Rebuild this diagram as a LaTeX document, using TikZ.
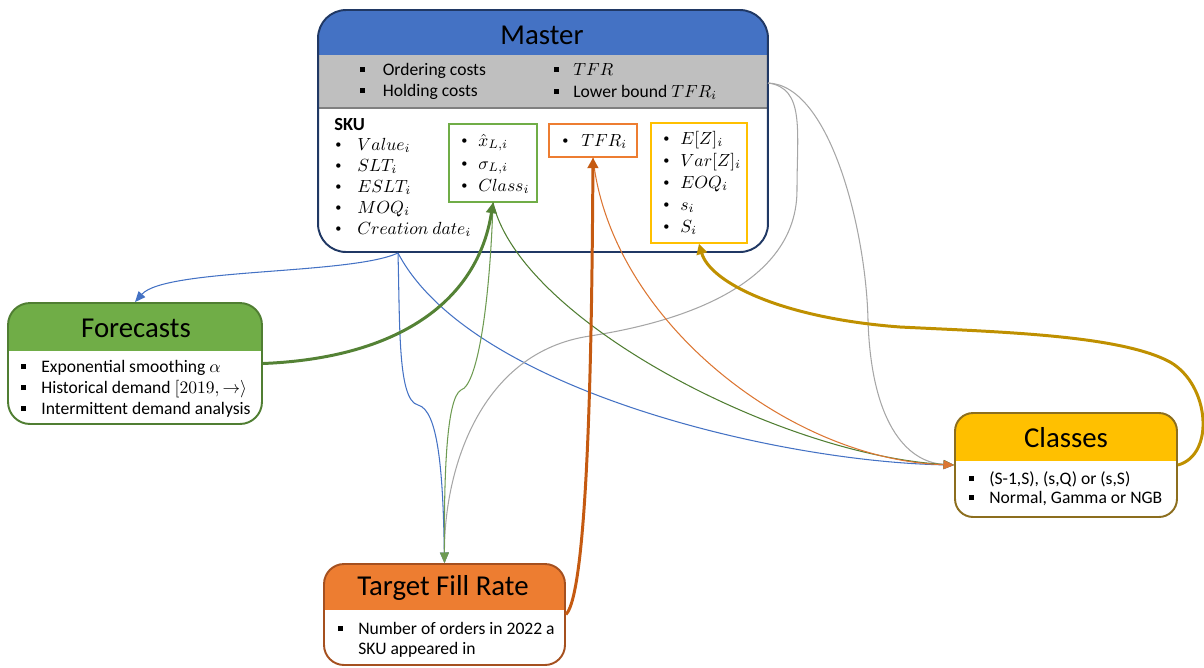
\documentclass[tikz,border=0pt]{standalone}
\usepackage{fontspec}
\setmainfont{Carlito}
\usetikzlibrary{arrows.meta,calc}
\definecolor{mblue}{HTML}{4472C4}
\definecolor{mnavy}{HTML}{203864}
\definecolor{mgray}{HTML}{BFBFBF}
\definecolor{fgreen}{HTML}{70AD47}
\definecolor{fgreenb}{HTML}{507E32}
\definecolor{torange}{HTML}{ED7D31}
\definecolor{torangeb}{HTML}{A5501F}
\definecolor{cyellow}{HTML}{FFC000}
\definecolor{cyellowb}{HTML}{8C6E1E}
\definecolor{lblue}{HTML}{4472C4}
\definecolor{lgreenthick}{HTML}{548235}
\definecolor{lgreen}{HTML}{6E9B52}
\definecolor{lorangethick}{HTML}{C55A11}
\definecolor{lorange}{HTML}{DC7633}
\definecolor{lgold}{HTML}{BF9000}
\definecolor{lgray}{HTML}{A6A6A6}
\newcommand\rbul[1]{\makebox[#1][l]{\raisebox{0.8pt}{\fontsize{7}{7}\selectfont\textbullet}}}
\newcommand\sbul[1]{\makebox[#1][l]{\rule[1.6pt]{2.8pt}{2.8pt}}}
\tikzset{
  card/.style={draw, line width=1.1pt, fill=white, inner sep=0pt, rectangle},
  titletext/.style={font=\fontsize{16.4}{19}\selectfont, inner sep=0pt},
  itemtext/.style={font=\fontsize{10}{12}\selectfont, inner sep=0pt, anchor=base west},
  inbox/.style={draw, line width=0.7pt, inner sep=0pt, rectangle},
  thinline/.style={line width=0.6pt},
  thickline/.style={line width=1.7pt},
  tipS/.style={-{Triangle[length=6pt,width=5pt]}},
  tipL/.style={-{Triangle[length=6pt,width=6pt]}}
}
\begin{document}
\begin{tikzpicture}[x=0.02cm,y=-0.02cm]
\useasboundingbox (0,0) rectangle (1204,667);

% ---------- Master ----------
\node[card, draw=mnavy, rounded corners=0.56cm, minimum width=9cm, minimum height=4.84cm,
  path picture={
    \fill[mgray, sharp corners] (path picture bounding box.north west) rectangle ([yshift=-1.96cm]path picture bounding box.north east);
    \draw[gray, line width=0.6pt, sharp corners] ([yshift=-1.96cm]path picture bounding box.north west) -- ([yshift=-1.96cm]path picture bounding box.north east);
    \fill[mblue, sharp corners] (path picture bounding box.north west) rectangle ([yshift=-0.9cm]path picture bounding box.north east);
  }] (master) at (543,131) {};
\node[titletext] (mastertitle) at (542,35) {Master};

\node[itemtext] (oc) at (360,75) {\sbul{0.45cm}Ordering costs};
\node[itemtext] (hc) at (360,96) {\sbul{0.45cm}Holding costs};
\node[itemtext] (tfrg) at (554,75) {\sbul{0.38cm}$TFR$};
\node[itemtext] (lb) at (554,97) {\sbul{0.38cm}Lower bound $TFR_i$};

\node[itemtext, font=\fontsize{10.5}{12}\selectfont\bfseries] (sku) at (334,130) {SKU};
\node[itemtext] (sku1) at (335,150) {\rbul{0.44cm}$Value_i$};
\node[itemtext] (sku2) at (335,171) {\rbul{0.44cm}$SLT_i$};
\node[itemtext] (sku3) at (335,192) {\rbul{0.44cm}$ESLT_i$};
\node[itemtext] (sku4) at (335,213) {\rbul{0.44cm}$MOQ_i$};
\node[itemtext] (sku5) at (335,234) {\rbul{0.44cm}$Creation\ date_i$};

\node[inbox, draw=fgreen, minimum width=1.76cm, minimum height=1.56cm] (gbox) at (493,163) {};
\node[itemtext] (g1) at (461,146) {\rbul{0.34cm}$\hat{x}_{L,i}$};
\node[itemtext] (g2) at (461,169) {\rbul{0.34cm}$\sigma_{L,i}$};
\node[itemtext] (g3) at (461,191) {\rbul{0.34cm}$Class_i$};

\node[inbox, draw=torange, minimum width=1.76cm, minimum height=0.66cm] (obox) at (593,140.5) {};
\node[itemtext] (o1) at (562,146) {\rbul{0.38cm}$TFR_i$};

\node[inbox, draw=cyellow, minimum width=1.92cm, minimum height=2.4cm] (ybox) at (699,183) {};
\node[itemtext] (y1) at (663,144) {\rbul{0.34cm}$E[Z]_i$};
\node[itemtext] (y2) at (663,166) {\rbul{0.34cm}$Var[Z]_i$};
\node[itemtext] (y3) at (663,188) {\rbul{0.34cm}$EOQ_i$};
\node[itemtext] (y4) at (663,210) {\rbul{0.34cm}$s_i$};
\node[itemtext] (y5) at (663,232) {\rbul{0.34cm}$S_i$};

% ---------- Forecasts ----------
\node[card, draw=fgreenb, rounded corners=0.44cm, minimum width=5.08cm, minimum height=2.42cm,
  path picture={
    \fill[fgreen, sharp corners] (path picture bounding box.north west) rectangle ([yshift=-0.96cm]path picture bounding box.north east);
  }] (forecasts) at (135,363.5) {};
\node[titletext] (ftitle) at (136,328) {Forecasts};
\node[itemtext] (f1) at (21,372) {\sbul{0.40cm}Exponential smoothing $\alpha$};
\node[itemtext] (f2) at (21,393) {\sbul{0.40cm}Historical demand $[2019,\rightarrow\rangle$};
\node[itemtext] (f3) at (21,414) {\sbul{0.40cm}Intermittent demand analysis};

% ---------- Target Fill Rate ----------
\node[card, draw=torangeb, rounded corners=0.4cm, minimum width=4.82cm, minimum height=2.02cm,
  path picture={
    \fill[torange, sharp corners] (path picture bounding box.north west) rectangle ([yshift=-0.92cm]path picture bounding box.north east);
  }] (tfr) at (444.5,614.5) {};
\node[titletext] (ttitle) at (443,588) {Target Fill Rate};
\node[itemtext] (t1) at (338,634) {\sbul{0.40cm}Number of orders in 2022 a};
\node[itemtext] (t2) at (338,654) {\makebox[0.40cm]{}SKU appeared in};

% ---------- Classes ----------
\node[card, draw=cyellowb, rounded corners=0.36cm, minimum width=4.44cm, minimum height=2.08cm,
  path picture={
    \fill[cyellow, sharp corners] (path picture bounding box.north west) rectangle ([yshift=-0.96cm]path picture bounding box.north east);
  }] (classes) at (1066,465) {};
\node[titletext] (ctitle) at (1066,438) {Classes};
\node[itemtext] (c1) at (969,484) {\sbul{0.40cm}(S-1,S), (s,Q) or (s,S)};
\node[itemtext] (c2) at (969,503) {\sbul{0.40cm}Normal, Gamma or NGB};

% ---------- ports ----------
\coordinate (mport) at (398,253);
\coordinate (gport) at (768,83);
\coordinate (cport) at (classes.west);

% ---------- connectors ----------
\draw[thinline, lblue, tipS] (mport) .. controls (350,275) and (165,268) .. (forecasts.north);
\draw[thinline, lblue, tipS] (mport) .. controls (400,330) and (398,400) .. (418,405)
  .. controls (438,410) and (443,470) .. (tfr.north);
\draw[thinline, lblue, tipS] (mport) .. controls (470,390) and (780,462) .. (cport);

\draw[thinline, lgray, tipS] (gport) .. controls (805,88) and (797,130) .. (797,190)
  .. controls (797,300) and (640,328) .. (590,336)
  .. controls (480,352) and (444,470) .. (tfr.north);
\draw[thinline, lgray, tipS] (gport) .. controls (830,85) and (866,230) .. (868,320)
  .. controls (871,420) and (905,462) .. (cport);

\draw[thinline, lgreen, tipS] (gbox.south) .. controls (490,300) and (478,385) .. (461,390)
  .. controls (446,398) and (444,480) .. (tfr.north);
\draw[thinline, fgreenb, tipS] (gbox.south) .. controls (520,320) and (780,455) .. (cport);

\draw[thinline, lorange, tipS] (obox.south) .. controls (610,320) and (790,460) .. (cport);

\draw[thickline, lgreenthick, tipL] (forecasts.east) .. controls (400,358) and (478,300) .. (gbox.south);
\draw[thickline, lorangethick, tipL] (tfr.east) .. controls (590,590) and (592,300) .. (obox.south);
\draw[thickline, lgold, tipL] (classes.east) .. controls (1215,455) and (1210,385) .. (1170,362)
  .. controls (1120,335) and (1000,332) .. (900,327)
  .. controls (780,318) and (710,282) .. (ybox.south);
\end{tikzpicture}
\end{document}
